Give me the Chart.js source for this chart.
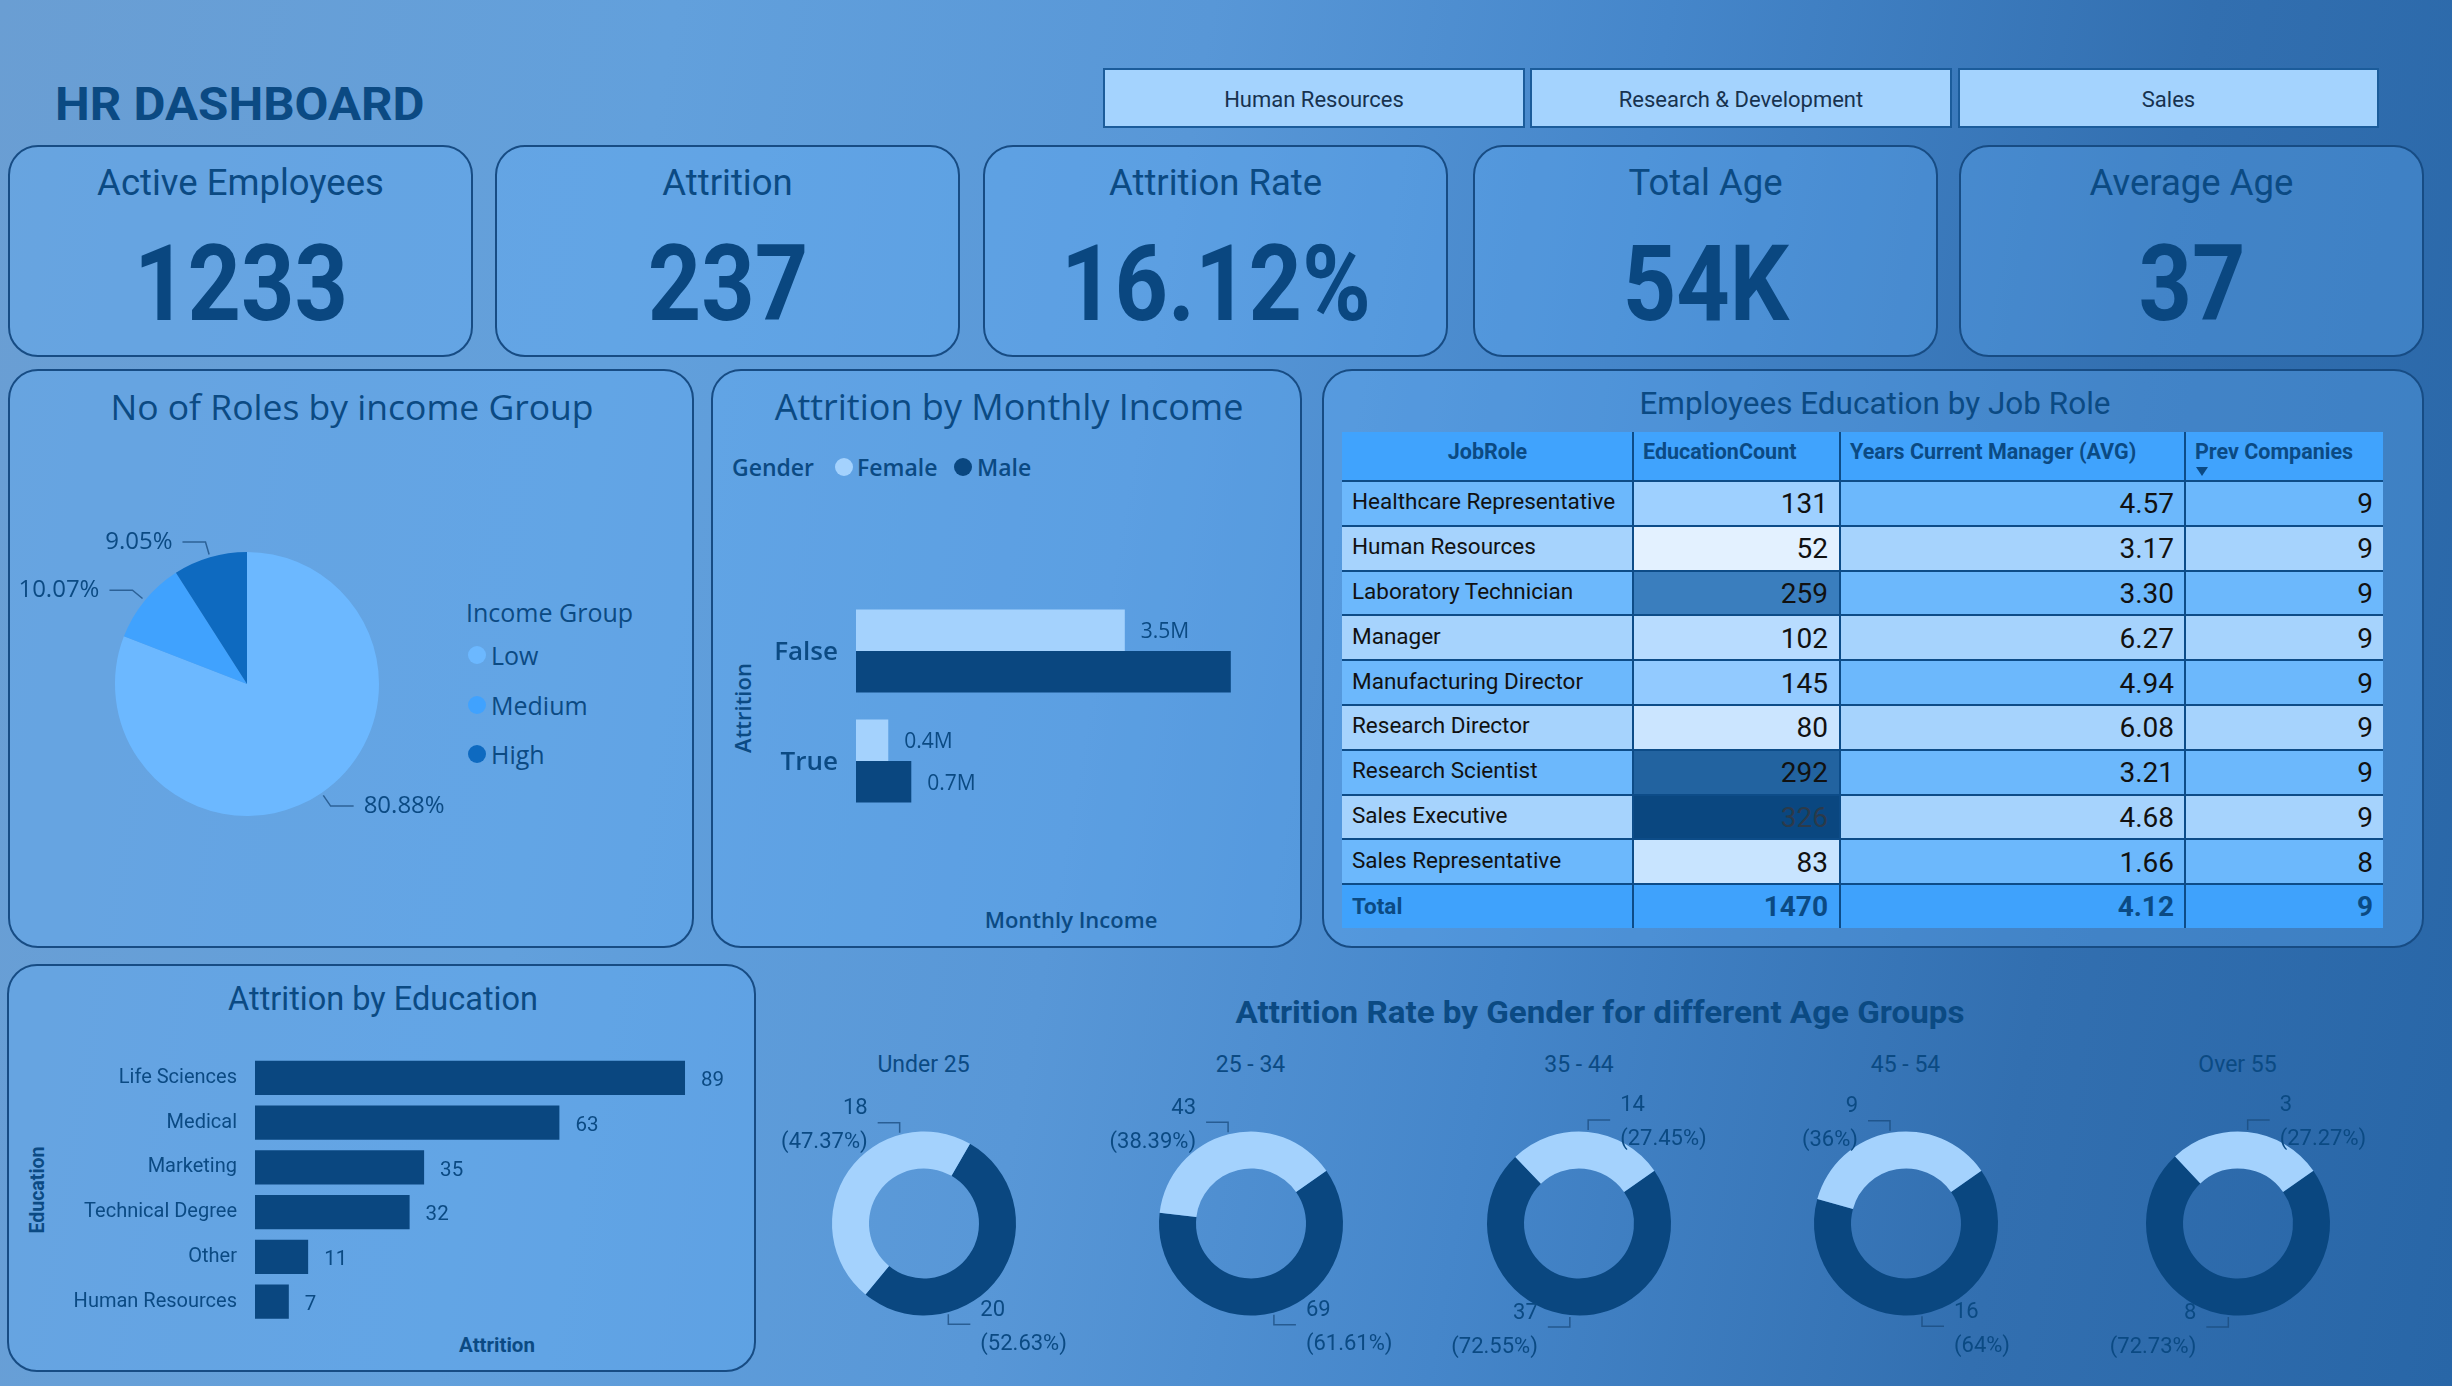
<!DOCTYPE html>
<html><head><meta charset="utf-8">
<script src="https://cdn.jsdelivr.net/npm/chart.js@4.4.0/dist/chart.umd.min.js"></script>
<style>
html,body{margin:0;padding:0;}
body{width:2452px;height:1386px;overflow:hidden;position:relative;
 background:linear-gradient(100deg,#6a9ed3 0%,#62a0dc 25%,#5897d7 45%,#4586ca 62%,#326fb0 82%,#2866a7 100%);
 font-family:Roboto,sans-serif;}
canvas{position:absolute;}
</style></head><body>
<script>
// ================= DATA =================
const departments = ['Human Resources', 'Research & Development', 'Sales'];
const kpiLabels = ['Active Employees', 'Attrition', 'Attrition Rate', 'Total Age', 'Average Age'];
const kpiValues = ['1233', '237', '16.12%', '54K', '37'];

const incomeGroups = ['Low', 'Medium', 'High'];
const incomeGroupShare = [80.88, 10.07, 9.05];

const attritionValues = ['False', 'True'];
const genders = ['Female', 'Male'];
const monthlyIncomeFemale = [3.5, 0.42];   // millions
const monthlyIncomeMale = [4.88, 0.72];    // millions

const jobRoles = ['Healthcare Representative', 'Human Resources', 'Laboratory Technician', 'Manager',
  'Manufacturing Director', 'Research Director', 'Research Scientist', 'Sales Executive', 'Sales Representative'];
const educationCount = [131, 52, 259, 102, 145, 80, 292, 326, 83];
const yearsCurrentManager = [4.57, 3.17, 3.30, 6.27, 4.94, 6.08, 3.21, 4.68, 1.66];
const prevCompanies = [9, 9, 9, 9, 9, 9, 9, 9, 8];
const totalYearsCurrentManager = 4.12;
const totalPrevCompanies = 9;
const tableHeaders = ['JobRole', 'EducationCount', 'Years Current Manager (AVG)', 'Prev Companies'];

const educationFields = ['Life Sciences', 'Medical', 'Marketing', 'Technical Degree', 'Other', 'Human Resources'];
const educationAttrition = [89, 63, 35, 32, 11, 7];

const ageGroups = ['Under 25', '25 - 34', '35 - 44', '45 - 54', 'Over 55'];
const ageAttritionFemale = [18, 43, 14, 9, 3];
const ageAttritionMale = [20, 69, 37, 16, 8];

// ================= STYLE / LAYOUT =================
const NAVY = '#0b4a83';
const C_FEMALE = '#a4d2fd';
const C_MALE = '#0a4780';
const PIE_COLORS = ['#6cb8ff', '#40a2fe', '#0e6ac0'];
const LEADER = 'rgba(25,75,125,0.75)';
const donutCx = [923.5, 1250.5, 1579, 1905.5, 2237.5];
const donutRotation = [30, 55, 55, 55, 55];

function el(tag, css, parent) {
  const e = document.createElement(tag);
  Object.assign(e.style, css);
  (parent || document.body).appendChild(e);
  return e;
}
function txt(s, x, y, o = {}) {
  const size = o.size || 20, fam = o.fam || 'Roboto', w = o.weight || 400, col = o.color || NAVY,
    al = o.align || 'left', sx = o.sx || 1, rot = o.rot || 0;
  const e = el('div', {
    position: 'absolute', left: x + 'px', top: y + 'px', whiteSpace: 'nowrap', lineHeight: '1',
    fontFamily: '"' + fam + '"', fontSize: size + 'px', fontWeight: w, color: col
  });
  e.textContent = s;
  const tx = al === 'left' ? '0' : al === 'right' ? '-100%' : '-50%';
  const ox = al === 'left' ? 'left' : al === 'right' ? 'right' : 'center';
  e.style.transformOrigin = ox + ' center';
  e.style.transform = 'translate(' + tx + ',-50%)' + (rot ? ' rotate(' + rot + 'deg)' : '') + (sx !== 1 ? ' scaleX(' + sx + ')' : '');
  return e;
}
function panel(x, y, w, h) {
  return el('div', {
    position: 'absolute', left: x + 'px', top: y + 'px', width: w + 'px', height: h + 'px', boxSizing: 'border-box',
    border: '2px solid #174c84', borderRadius: '30px', background: 'rgba(100,175,250,0.33)'
  });
}
function rect(x, y, w, h, bg) {
  return el('div', { position: 'absolute', left: x + 'px', top: y + 'px', width: w + 'px', height: h + 'px', background: bg });
}
function circle(cx, cy, d, bg) {
  return el('div', { position: 'absolute', left: (cx - d / 2) + 'px', top: (cy - d / 2) + 'px', width: d + 'px', height: d + 'px', borderRadius: '50%', background: bg });
}
function makeCanvas(x, y, w, h) {
  const c = document.createElement('canvas');
  c.width = w; c.height = h;
  Object.assign(c.style, { left: x + 'px', top: y + 'px', width: w + 'px', height: h + 'px' });
  document.body.appendChild(c);
  return c;
}
function fmtPct(v) { return parseFloat(v.toFixed(2)) + '%'; }

// ================= STATIC FRAME =================
txt('HR DASHBOARD', 55, 104, { size: 46, weight: 700, sx: 1.07 });
const btnX = [1103, 1530, 1958], btnW = [422, 422, 421];
departments.forEach((d, i) => {
  el('div', { position: 'absolute', left: btnX[i] + 'px', top: '68px', width: btnW[i] + 'px', height: '60px', boxSizing: 'border-box', border: '2px solid #1b5c9b', background: '#a4d3fe' });
  txt(d, btnX[i] + btnW[i] / 2, 100, { size: 22, align: 'center', color: '#17324f' });
});
const kpiX = [8, 495, 983, 1473, 1959];
kpiLabels.forEach((k, i) => {
  panel(kpiX[i], 145, 465, 212);
  txt(k, kpiX[i] + 232.5, 183, { size: 36.5, align: 'center' });
  txt(kpiValues[i], kpiX[i] + 232.5, 284, { size: 106, weight: 700, align: 'center', sx: 0.88, color: '#0a4780' });
});
panel(8, 369, 686, 579);
panel(711, 369, 591, 579);
panel(1322, 369, 1102, 579);
panel(7, 964, 749, 408);

txt('No of Roles by income Group', 352, 407, { size: 35.5, fam: 'Open Sans', align: 'center' });
txt('Attrition by Monthly Income', 1009, 407, { size: 36, fam: 'Open Sans', align: 'center' });
txt('Employees Education by Job Role', 1875, 404, { size: 31.5, align: 'center' });
txt('Attrition by Education', 383, 999, { size: 32.5, align: 'center' });
txt('Attrition Rate by Gender for different Age Groups', 1600, 1012, { size: 31, weight: 700, align: 'center', sx: 1.07 });

// pie legend
txt('Income Group', 466, 612, { size: 25, fam: 'Open Sans' });
incomeGroups.forEach((g, i) => {
  const cy = 655 + i * 49.5;
  circle(477, cy, 18, PIE_COLORS[i]);
  txt(g, 491, cy, { size: 25, fam: 'Open Sans' });
});
// monthly legend + axis titles
txt('Gender', 732, 467, { size: 23, fam: 'Open Sans', weight: 600 });
circle(843.5, 467, 18, C_FEMALE); txt(genders[0], 857, 467, { size: 23, fam: 'Open Sans', weight: 600 });
circle(963, 467, 18, C_MALE); txt(genders[1], 977, 467, { size: 23, fam: 'Open Sans', weight: 600 });
txt('Attrition', 741.5, 708, { size: 22, fam: 'Open Sans', weight: 600, align: 'center', rot: -90 });
txt('Monthly Income', 1071, 919, { size: 22, fam: 'Open Sans', weight: 600, align: 'center' });
// education axis titles
txt('Education', 38, 1190, { size: 19.5, weight: 700, align: 'center', rot: -90 });
txt('Attrition', 497, 1345, { size: 20.5, weight: 700, align: 'center' });
// age group subtitles
ageGroups.forEach((g, i) => txt(g, donutCx[i], 1064, { size: 23, align: 'center' }));

// ================= TABLE =================
(function () {
  const tx = 1342, ty = 432, colW = [291, 207, 345, 198], headH = 49, rowH = 44.8, totH = 44;
  const colX = [tx]; colW.forEach((w, i) => colX.push(colX[i] + w));
  const mn = Math.min(...educationCount), mx = Math.max(...educationCount), md = (mn + mx) / 2;
  const lo = [227, 241, 255], mid = [108, 184, 255], hi = [10, 71, 128];
  function eduColor(v) {
    let a, b, t;
    if (v <= md) { a = lo; b = mid; t = (v - mn) / (md - mn); } else { a = mid; b = hi; t = (v - md) / (mx - md); }
    return 'rgb(' + a.map((c, k) => Math.round(c + (b[k] - c) * t)).join(',') + ')';
  }
  const tableW = colX[4] - tx;
  // header
  rect(tx, ty, tableW, headH, '#40a3fd');
  tableHeaders.forEach((h, c) => {
    if (c === 0) txt(h, colX[0] + colW[0] / 2, ty + 20, { size: 21.5, weight: 700, align: 'center' });
    else txt(h, colX[c] + 10, ty + 20, { size: 21.5, weight: 700 });
  });
  el('div', { position: 'absolute', left: (colX[3] + 11) + 'px', top: (ty + 35) + 'px', width: 0, height: 0, borderLeft: '6px solid transparent', borderRight: '6px solid transparent', borderTop: '9px solid ' + NAVY });
  // rows
  jobRoles.forEach((r, i) => {
    const y = ty + headH + i * rowH;
    const bg = i % 2 === 0 ? '#6cb8fc' : '#a6d3fd';
    rect(colX[0], y, colW[0], rowH, bg);
    rect(colX[1], y, colW[1], rowH, eduColor(educationCount[i]));
    rect(colX[2], y, colW[2], rowH, bg);
    rect(colX[3], y, colW[3], rowH, bg);
    const cy = y + rowH / 2;
    txt(r, colX[0] + 10, cy - 2, { size: 22.5, color: '#111' });
    txt(String(educationCount[i]), colX[2] - 12, cy + 1, { size: 28, align: 'right', color: educationCount[i] === mx ? '#2b3a4a' : '#111' });
    txt(yearsCurrentManager[i].toFixed(2), colX[3] - 11, cy + 1, { size: 28, align: 'right', color: '#111' });
    txt(String(prevCompanies[i]), colX[4] - 10, cy + 1, { size: 28, align: 'right', color: '#111' });
  });
  const yT = ty + headH + jobRoles.length * rowH;
  rect(tx, yT, tableW, totH, '#3fa2fc');
  const totalEdu = educationCount.reduce((a, b) => a + b, 0);
  txt('Total', colX[0] + 10, yT + totH / 2, { size: 22.5, weight: 700 });
  txt(String(totalEdu), colX[2] - 12, yT + totH / 2 + 1, { size: 28, weight: 700, align: 'right' });
  txt(totalYearsCurrentManager.toFixed(2), colX[3] - 11, yT + totH / 2 + 1, { size: 28, weight: 700, align: 'right' });
  txt(String(totalPrevCompanies), colX[4] - 10, yT + totH / 2 + 1, { size: 28, weight: 700, align: 'right' });
  // grid lines
  const bottom = yT + totH;
  for (let c = 1; c < 4; c++) rect(colX[c] - 1, ty, 2, bottom - ty, '#0d4c88');
  for (let r = 0; r <= jobRoles.length; r++) rect(tx, ty + headH + r * rowH - 1, tableW, 2, '#0d4c88');
})();

// ================= CHARTS =================
Chart.defaults.font.family = 'Roboto';
const baseOpts = { responsive: false, animation: false, events: [], devicePixelRatio: 1, plugins: { legend: { display: false }, tooltip: { enabled: false } } };

// --- pie: roles by income group
const pieLabels = {
  id: 'pieLabels',
  afterDatasetsDraw(chart) {
    const ctx = chart.ctx, meta = chart.getDatasetMeta(0), data = chart.data.datasets[0].data;
    const total = data.reduce((a, b) => a + b, 0);
    meta.data.forEach((arc, i) => {
      const p = arc.getProps(['x', 'y', 'startAngle', 'endAngle', 'outerRadius'], true);
      const m = (p.startAngle + p.endAngle) / 2, cs = Math.cos(m), sn = Math.sin(m);
      const side = cs >= 0 ? 1 : -1;
      const x0 = p.x + (p.outerRadius + 3) * cs, y0 = p.y + (p.outerRadius + 3) * sn;
      const x1 = p.x + (p.outerRadius + 16) * cs, y1 = p.y + (p.outerRadius + 16) * sn;
      const x2 = x1 + side * 23;
      ctx.save();
      ctx.strokeStyle = LEADER; ctx.lineWidth = 1.5;
      ctx.beginPath(); ctx.moveTo(x0, y0); ctx.lineTo(x1, y1); ctx.lineTo(x2, y1); ctx.stroke();
      ctx.fillStyle = NAVY; ctx.font = '24px "Open Sans"';
      ctx.textAlign = side > 0 ? 'left' : 'right'; ctx.textBaseline = 'middle';
      ctx.fillText(fmtPct(data[i] / total * 100), x2 + side * 10, y1);
      ctx.restore();
    });
  }
};
new Chart(makeCanvas(15, 452, 560, 464), {
  type: 'pie',
  data: { labels: incomeGroups, datasets: [{ data: incomeGroupShare, backgroundColor: PIE_COLORS, borderWidth: 0, hoverOffset: 0 }] },
  options: Object.assign({}, baseOpts, { radius: 132, layout: { padding: { left: 100, right: 196, top: 100, bottom: 100 } } }),
  plugins: [pieLabels]
});

// --- generic horizontal bar decorations (tick labels + value labels)
function barDecor(cfg) {
  return {
    id: 'barDecor',
    afterDatasetsDraw(chart) {
      const ctx = chart.ctx, ys = chart.scales.y, area = chart.chartArea;
      ctx.save();
      ctx.textBaseline = 'middle';
      ctx.fillStyle = cfg.tickColor; ctx.font = cfg.tickFont; ctx.textAlign = 'right';
      chart.data.labels.forEach((lab, i) => ctx.fillText(lab, area.left - cfg.tickGap, ys.getPixelForValue(i) + cfg.tickDy));
      ctx.font = cfg.valueFont; ctx.fillStyle = cfg.valueColor; ctx.textAlign = 'left';
      chart.data.datasets.forEach((ds, di) => {
        chart.getDatasetMeta(di).data.forEach((bar, i) => {
          const s = cfg.format(ds.data[i]);
          const w = ctx.measureText(s).width, x = bar.x + cfg.valueGap;
          if (x + w > area.right + cfg.overflow) return;
          ctx.fillText(s, x, bar.y + cfg.valueDy);
        });
      });
      ctx.restore();
    }
  };
}

// --- attrition by monthly income
new Chart(makeCanvas(712, 440, 588, 500), {
  type: 'bar',
  data: {
    labels: attritionValues,
    datasets: [
      { label: genders[0], data: monthlyIncomeFemale, backgroundColor: C_FEMALE, borderWidth: 0, categoryPercentage: 0.755, barPercentage: 1 },
      { label: genders[1], data: monthlyIncomeMale, backgroundColor: C_MALE, borderWidth: 0, categoryPercentage: 0.755, barPercentage: 1 }
    ]
  },
  options: Object.assign({}, baseOpts, {
    indexAxis: 'y',
    layout: { padding: { left: 144, right: 50, top: 156, bottom: 124 } },
    scales: { x: { display: false, min: 0, max: 5.13 }, y: { display: false } }
  }),
  plugins: [barDecor({
    tickFont: '600 26px "Open Sans"', tickColor: NAVY, tickGap: 18, tickDy: 2,
    valueFont: '21px "Open Sans"', valueColor: NAVY, valueGap: 16, valueDy: 2, overflow: 10,
    format: v => v.toFixed(1) + 'M'
  })]
});

// --- attrition by education
new Chart(makeCanvas(8, 965, 748, 405), {
  type: 'bar',
  data: {
    labels: educationFields,
    datasets: [{ data: educationAttrition, backgroundColor: C_MALE, borderWidth: 0, categoryPercentage: 0.767, barPercentage: 1 }]
  },
  options: Object.assign({}, baseOpts, {
    indexAxis: 'y',
    layout: { padding: { left: 247, right: 36, top: 90.6, bottom: 46 } },
    scales: { x: { display: false, min: 0, max: 96.24 }, y: { display: false } }
  }),
  plugins: [barDecor({
    tickFont: '20px Roboto', tickColor: NAVY, tickGap: 18, tickDy: 0,
    valueFont: '20.5px Roboto', valueColor: NAVY, valueGap: 16, valueDy: 3, overflow: 60,
    format: v => String(v)
  })]
});

// --- donuts by age group
const donutLabels = {
  id: 'donutLabels',
  afterDatasetsDraw(chart) {
    const ctx = chart.ctx, meta = chart.getDatasetMeta(0), data = chart.data.datasets[0].data;
    const total = data.reduce((a, b) => a + b, 0);
    meta.data.forEach((arc, i) => {
      const p = arc.getProps(['x', 'y', 'startAngle', 'endAngle', 'outerRadius'], true);
      let deg = (((p.startAngle + p.endAngle) / 2) * 180 / Math.PI + 90) % 360;
      if (deg < 0) deg += 360;
      const top = deg > 270 || deg < 90;
      const side = Math.sin(deg * Math.PI / 180) >= 0 ? 1 : -1;
      let a = top ? (deg > 180 ? deg - 360 : deg) : deg;
      a = top ? Math.max(-15, Math.min(15, a)) : Math.max(165, Math.min(195, a));
      const rad = (a - 90) * Math.PI / 180;
      const x0 = p.x + (p.outerRadius + 2) * Math.cos(rad), y0 = p.y + (p.outerRadius + 2) * Math.sin(rad);
      const y1 = y0 + (top ? -10 : 10);
      const x2 = x0 + side * 22;
      ctx.save();
      ctx.strokeStyle = LEADER; ctx.lineWidth = 1.5;
      ctx.beginPath(); ctx.moveTo(x0, y0); ctx.lineTo(x0, y1); ctx.lineTo(x2, y1); ctx.stroke();
      ctx.fillStyle = NAVY; ctx.font = '22px Roboto'; ctx.textBaseline = 'middle';
      ctx.textAlign = side > 0 ? 'left' : 'right';
      const tx = x2 + side * 10;
      ctx.fillText(String(data[i]), tx, y1 - 14);
      ctx.fillText('(' + fmtPct(data[i] / total * 100) + ')', tx, y1 + 20);
      ctx.restore();
    });
  }
};
ageGroups.forEach((g, i) => {
  new Chart(makeCanvas(donutCx[i] - 165, 1073, 330, 301), {
    type: 'doughnut',
    data: {
      labels: [genders[1], genders[0]],
      datasets: [{ data: [ageAttritionMale[i], ageAttritionFemale[i]], backgroundColor: [C_MALE, C_FEMALE], borderWidth: 0, hoverOffset: 0 }]
    },
    options: Object.assign({}, baseOpts, {
      rotation: donutRotation[i], radius: 92, cutout: 55,
      layout: { padding: { left: 73, right: 73, top: 58.5, bottom: 58.5 } }
    }),
    plugins: [donutLabels]
  });
});
</script>
</body></html>
